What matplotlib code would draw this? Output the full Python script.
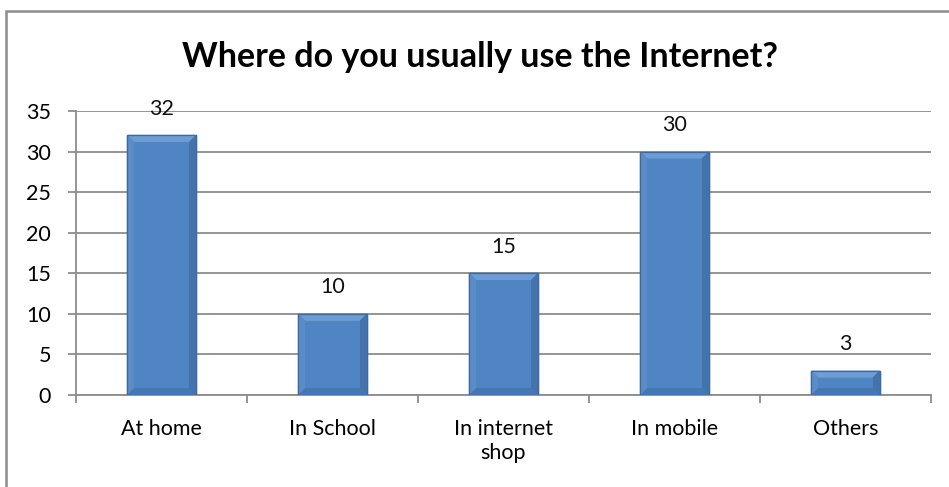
import matplotlib
matplotlib.use("Agg")
import matplotlib.pyplot as plt
from matplotlib.patches import Rectangle, Polygon
import numpy as np

categories = ["At home", "In School", "In internet\nshop", "In mobile", "Others"]
values = [32, 10, 15, 30, 3]
yticks = [0, 5, 10, 15, 20, 25, 30, 35]
title = "Where do you usually use the Internet?"

plt.rcParams['font.family'] = ['Lato', 'DejaVu Sans']

W, H = 949, 487
fig = plt.figure(figsize=(W / 100, H / 100), dpi=100)
ax_l, ax_r, ax_t, ax_b = 76, 931, 111, 395
ax = fig.add_axes([ax_l / W, 1 - ax_b / H, (ax_r - ax_l) / W, (ax_b - ax_t) / H])

# outer chart frame
fig.patches.append(Rectangle((5.5 / W, -0.02), 1.05, 1 - 10.5 / H + 0.02,
                             transform=fig.transFigure, fill=False,
                             edgecolor="#8c8c8c", linewidth=1.8, zorder=0))

n = len(categories)
x = np.arange(n)
bar_w = 0.40
ax.set_xlim(-0.5, n - 0.5)
ax.set_ylim(0, 35)

# pixel -> data scale for the bevel edges
px_x = n / (ax_r - ax_l)
px_y = 35 / (ax_b - ax_t)
bev = 7
dx, dy = bev * px_x, bev * px_y

for xi, v in zip(x, values):
    x0, x1 = xi - bar_w / 2, xi + bar_w / 2
    y0, y1 = 0, v
    e = min(dy, v / 2.5)
    # soft shadow
    ax.add_patch(Rectangle((x0 + 1.5 * px_x, y0), bar_w, v - 1.5 * px_y,
                           facecolor="#c8c8c8", edgecolor="none", zorder=2))
    # main face
    ax.add_patch(Rectangle((x0, y0), bar_w, v, facecolor="#4F81BD",
                           edgecolor="#3E6A9F", linewidth=1.0, zorder=3))
    # top bevel
    ax.add_patch(Polygon([(x0, y1), (x1, y1), (x1 - dx, y1 - e), (x0 + dx, y1 - e)],
                         closed=True, facecolor="#6E9CD4", edgecolor="none", zorder=4))
    # left bevel
    ax.add_patch(Polygon([(x0, y0), (x0, y1), (x0 + dx, y1 - e), (x0 + dx, y0 + e)],
                         closed=True, facecolor="#5A8CC8", edgecolor="none", zorder=4))
    # right bevel
    ax.add_patch(Polygon([(x1, y0), (x1, y1), (x1 - dx, y1 - e), (x1 - dx, y0 + e)],
                         closed=True, facecolor="#4373AC", edgecolor="none", zorder=4))
    # bottom bevel
    ax.add_patch(Polygon([(x0, y0), (x1, y0), (x1 - dx, y0 + e), (x0 + dx, y0 + e)],
                         closed=True, facecolor="#4677B2", edgecolor="none", zorder=4))
    # centre face
    ax.add_patch(Rectangle((x0 + dx, y0 + e), bar_w - 2 * dx, v - 2 * e,
                           facecolor="#5085C3", edgecolor="none", zorder=4))
    ax.add_patch(Rectangle((x0, y0), bar_w, v, facecolor="none",
                           edgecolor="#3E6A9F", linewidth=0.9, zorder=5))
    ax.annotate(str(v), (xi, v), xytext=(0, 19), textcoords="offset points",
                ha="center", va="center", fontsize=15.5, color="#111111", zorder=6)

ax.set_yticks(yticks)
ax.set_yticklabels([str(t) for t in yticks], fontsize=15.5)
ax.set_xticks(x)
ax.set_xticklabels(categories, fontsize=15.5, linespacing=1.3)
ax.yaxis.grid(True, color="#8c8c8c", linewidth=1.3, zorder=0)
ax.set_axisbelow(True)
for s in ["top", "right"]:
    ax.spines[s].set_visible(False)
for s in ["left", "bottom"]:
    ax.spines[s].set_color("#8c8c8c")
    ax.spines[s].set_linewidth(1.3)
ax.tick_params(axis="y", length=6, width=1.3, color="#8c8c8c", pad=12)
ax.set_xticks(np.arange(n + 1) - 0.5, minor=True)
ax.tick_params(axis="x", which="major", length=0, pad=17)
ax.tick_params(axis="x", which="minor", length=6, width=1.3, color="#8c8c8c")

fig.text(480 / W, 1 - 57 / H, title, ha="center", va="center", fontsize=24.5,
         fontweight="bold", color="#000000")

fig.savefig("out.png", dpi=100)
